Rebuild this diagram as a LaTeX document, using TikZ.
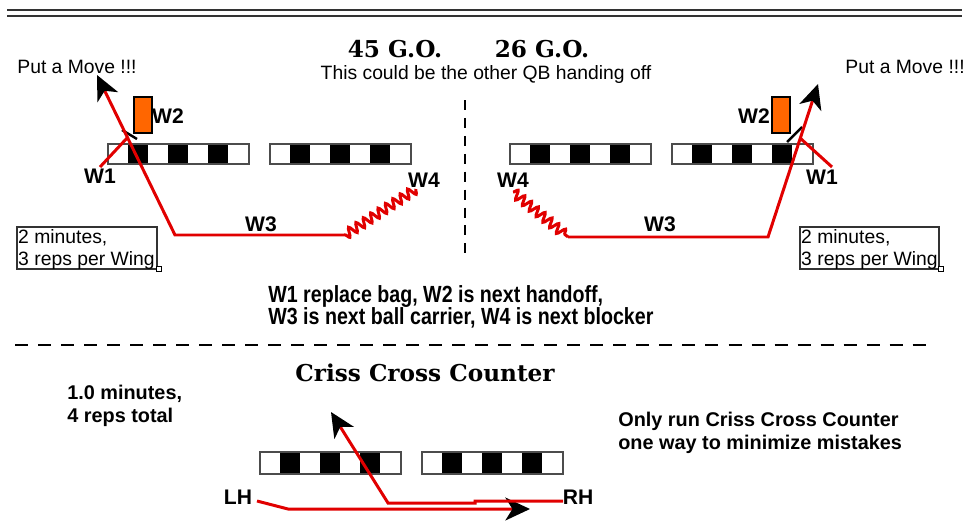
\documentclass[tikz,border=0pt]{standalone}
\usepackage{fontspec}
\setmainfont{Liberation Sans}
\newfontfamily\playfont{DejaVu Serif}
\newfontfamily\narrowfont[FakeStretch=0.84]{Liberation Sans}
\usetikzlibrary{arrows.meta,decorations.pathmorphing}

\definecolor{runred}{RGB}{225,0,0}
\definecolor{padorange}{RGB}{255,102,0}

\tikzset{
  rule/.style={line width=1.7pt, black!80},
  split/.style={line width=1.4pt, dash pattern=on 5.7pt off 4.5pt},
  divider/.style={line width=1.4pt, dash pattern=on 7.4pt off 5.7pt},
  bagline/.style={line width=0.8pt, black!70},
  run/.style={runred, line width=1.7pt},
  tip/.style={-{Stealth[length=14pt,width=13pt,inset=4pt,color=black]}},
  block/.style={run, decorate, decoration={snake, segment length=5pt, amplitude=2.6pt}},
  handmark/.style={line width=1.4pt, black},
  pad/.style={draw=black, fill=padorange, line width=0.8pt, minimum width=0.36cm, minimum height=0.72cm, inner sep=0pt},
  title/.style={font=\playfont\fontsize{13.2}{15}\selectfont\bfseries},
  note/.style={font=\fontsize{11}{13}\selectfont},
  wing/.style={font=\fontsize{12}{14}\selectfont\bfseries},
  boldnote/.style={font=\fontsize{11.3}{13}\selectfont\bfseries, align=left, inner xsep=0pt},
  boxline/.style={draw=black!80, line width=0.8pt},
  boxtext/.style={font=\fontsize{11}{12.5}\selectfont, align=left, inner xsep=0.5pt, inner ysep=1.5pt},
}

\begin{document}
\begin{tikzpicture}[x=0.02cm, y=-0.02cm]
\useasboundingbox (0,0) rectangle (969,521);

% header rule
\draw[rule] (7,10) -- (962,10);
\draw[rule] (7,16) -- (962,16);

% titles
\node[title] (go45) at (395,49) {45 G.O.};
\node[title] (go26) at (542,49) {26 G.O.};
\node[note] (qb) at (486,75) {This could be the other QB handing off};
\node[note] (moveL) at (77,67) {Put a Move !!!};
\node[note] (moveR) at (905,67) {Put a Move !!!};

% split between the two plays
\coordinate (splitT) at (465,100);
\coordinate (splitB) at (465,258);
\draw[split] (splitT) -- (splitB);

% bags
\foreach \bx/\by/\bh in {108/144/20, 270/144/20, 510/144/20, 672/144/20, 260/452/22, 422/452/22}{
    \foreach \c in {1,3,5}
        \fill ({\bx+20*\c},\by) rectangle ++(20,\bh);
    \draw[bagline] (\bx,\by) rectangle ++(141,\bh);
}

% left wing (45 G.O.)
\node[pad] (padL) at (143,115) {};
\node[wing] (w2L) at (168,116) {W2};
\node[wing] (w1L) at (100,176) {W1};
\node[wing] (w3L) at (261,224) {W3};
\node[wing] (w4L) at (424,180) {W4};

\coordinate (w1Lstart) at (100,167);
\coordinate (w1Lend) at (128,137);
\draw[run] (w1Lstart) -- (w1Lend);
\coordinate (markLa) at (122,130);
\coordinate (markLb) at (137,139);
\draw[handmark] (markLa) -- (markLb);

\coordinate (w4Lend) at (416,189);
\coordinate (w3Lstart) at (345,235);
\coordinate (w3Lturn) at (175,235);
\coordinate (w3Ltip) at (97,75);
\draw[block] (w4Lend) -- (w3Lstart);
\draw[run, tip] (w3Lstart) -- (w3Lturn) -- (w3Ltip);

% right wing (26 G.O.)
\node[pad] (padR) at (781,115) {};
\node[wing] (w2R) at (754,116) {W2};
\node[wing] (w1R) at (822,177) {W1};
\node[wing] (w3R) at (660,224) {W3};
\node[wing] (w4R) at (513,180) {W4};

\coordinate (w1Rstart) at (832,167);
\coordinate (w1Rend) at (800,138);
\draw[run] (w1Rstart) -- (w1Rend);
\coordinate (markRa) at (787,142);
\coordinate (markRb) at (802,127);
\draw[handmark] (markRa) -- (markRb);

\coordinate (w4Rend) at (513,192);
\coordinate (w3Rstart) at (568,237);
\coordinate (w3Rturn) at (768,237);
\coordinate (w3Rtip) at (818,84);
\draw[block] (w4Rend) -- (w3Rstart);
\draw[run, tip] (w3Rstart) -- (w3Rturn) -- (w3Rtip);

% time boxes
\draw[boxline] (17,227) rectangle (157,269);
\draw[boxline] (800,227) rectangle (939,269);
\node[boxtext, anchor=north west] (timeL) at (17,227) {2 minutes,\\3 reps per Wing};
\node[boxtext, anchor=north west] (timeR) at (800,227) {2 minutes,\\3 reps per Wing};
\draw[line width=0.5pt, fill=white] (156,266) rectangle (161,271);
\draw[line width=0.5pt, fill=white] (938,266) rectangle (943,271);

% who goes next
\node[boldnote, font=\narrowfont\fontsize{13.3}{12.5}\selectfont\bfseries, anchor=west] (rules) at (268,307)
    {W1 replace bag, W2 is next handoff,\\W3 is next ball carrier, W4 is next blocker};

\draw[divider] (15,345) -- (935,345);

% criss cross counter
\node[title] (ccc) at (425,373) {Criss Cross Counter};
\node[boldnote, anchor=west] (reps) at (67,406) {1.0 minutes,\\4 reps total};
\node[boldnote, anchor=west] (oneway) at (618,433) {Only run Criss Cross Counter\\one way to minimize mistakes};

\node[wing] (lh) at (238,497) {LH};
\node[wing] (rh) at (578,497) {RH};

\coordinate (lhS) at (257,501);
\coordinate (lhB) at (288,509);
\coordinate (lhT) at (530,509);
\draw[run, tip] (lhS) -- (lhB) -- (lhT);

\coordinate (rhS) at (563,501);
\coordinate (rhJ) at (475,501);
\coordinate (rhK) at (475,503);
\coordinate (rhB) at (388,503);
\coordinate (rhT) at (331,412);
\draw[run, tip] (rhS) -- (rhJ) -- (rhK) -- (rhB) -- (rhT);

\end{tikzpicture}
\end{document}
